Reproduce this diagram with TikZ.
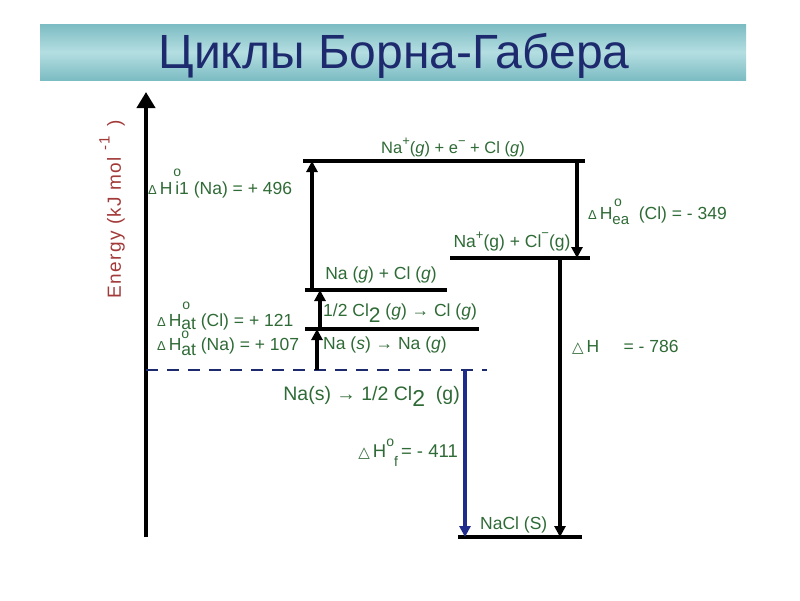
\documentclass[tikz,border=0pt]{standalone}
\usepackage{fontspec}
\setmainfont{Liberation Sans}
\newfontfamily\djv{DejaVu Sans}
\newfontfamily\spaced[LetterSpace=7]{Liberation Sans}
\usetikzlibrary{arrows.meta}
\definecolor{navy}{HTML}{1E2A6E}
\definecolor{lblgreen}{HTML}{2F6B36}
\definecolor{ered}{HTML}{A33A3A}
\definecolor{tealA}{HTML}{7CBCC3}
\definecolor{tealB}{HTML}{B4DEE1}
\definecolor{dblue}{HTML}{1F2C8C}
\newcommand\fs[1]{\fontsize{#1}{#1}\selectfont}
\newcommand\smD{{\fs{13}Δ}\,}
\newcommand\tri{{\djv\fs{15}△}\,}
% H with degree sign: #1 subscript, #2 horizontal shift of o, #3 raise of o, #4 lowering of subscript
\newcommand\Hsub[4]{H\makebox[0pt][l]{\hspace{#2}\smash{\raisebox{#3}{\fs{14}o}}}\smash{\raisebox{#4}{#1}}}
\newcommand\sups[2]{\smash{\raisebox{#1}{\fs{13}#2}}}
\begin{document}
\begin{tikzpicture}[x=1pt,y=-1pt,
  lvl/.style={line width=3.2pt},
  uparr/.style={line width=3.2pt,-{Triangle[length=11pt,width=11pt]}},
  lbl/.style={text=lblgreen,font=\fs{17.5},inner sep=0pt},
]
\useasboundingbox (0,0) rectangle (800,600);
\fill[white] (0,0) rectangle (800,600);
\shade[top color=tealA,bottom color=tealA,middle color=tealB] (40,24) rectangle (746,80);
\node[text=navy,font=\fs{48},inner sep=0pt] (title) at (394,56) {Циклы Борна-Габера};

% energy axis
\coordinate (ax0) at (146,537);
\coordinate (ax1) at (146,92);
\draw[line width=4pt,-{Triangle[length=16pt,width=18pt]}] (ax0) -- (ax1);
\node[rotate=90,text=ered,font=\spaced\fs{19},inner sep=0pt] (elbl) at (116,209) {Energy (kJ mol \sups{0.6em}{\fs{15}-1}\ \,)};

% levels
\coordinate (t0) at (303,161); \coordinate (t1) at (585,161);
\coordinate (i0) at (450,258); \coordinate (i1) at (590,258);
\coordinate (g0) at (305,290); \coordinate (g1) at (447,290);
\coordinate (c0) at (305,329); \coordinate (c1) at (479,329);
\coordinate (d0) at (146,370); \coordinate (d1) at (487,370);
\coordinate (b0) at (458,537); \coordinate (b1) at (582,537);
\draw[lvl] (t0) -- (t1);
\draw[lvl] (i0) -- (i1);
\draw[lvl] (g0) -- (g1);
\draw[lvl] (c0) -- (c1);
\draw[lvl] (b0) -- (b1);
\draw[navy,line width=2.8pt,dash pattern=on 12pt off 9pt] (d0) -- (d1);

% arrows
\coordinate (ie0) at (312,290); \coordinate (ie1) at (312,161);
\coordinate (ac0) at (320,329); \coordinate (ac1) at (320,290);
\coordinate (an0) at (317,370); \coordinate (an1) at (317,329);
\coordinate (ea0) at (577,161); \coordinate (ea1) at (577,258);
\coordinate (le0) at (560,258); \coordinate (le1) at (560,537);
\coordinate (hf0) at (465,370); \coordinate (hf1) at (465,537);
\draw[uparr] (ie0) -- (ie1);
\draw[uparr] (ac0) -- (ac1);
\draw[uparr] (an0) -- (an1);
\draw[uparr] (ea0) -- (ea1);
\draw[uparr] (le0) -- (le1);
\draw[uparr,dblue] (hf0) -- (hf1);

% species labels
\node[lbl,font=\fs{16.5}] (ltop) at (453,149) {Na\sups{0.45em}{+}(\textit{g}) + e\sups{0.45em}{−} + Cl (\textit{g})};
\node[lbl] (lion) at (512,243) {Na\sups{0.45em}{+}(g) + Cl\sups{0.55em}{−}(g)};
\node[lbl] (lgas) at (381,275) {Na (\textit{g}) + Cl (\textit{g})};
\node[lbl,anchor=west] (lcl) at (323,312) {1/2 Cl\smash{\raisebox{-0.35em}{\fs{21}2}} (\textit{g}) → Cl (\textit{g})};
\node[lbl,anchor=west] (lna) at (323,345) {Na (\textit{s}) → Na (\textit{g})};
\node[lbl,anchor=east,font=\fs{19.5}] (lel) at (460,395) {Na(s) → 1/2 Cl\smash{\raisebox{-0.35em}{\fs{23}2}} \ (g)};
\node[lbl,anchor=west] (lnacl) at (480,525) {NaCl (S)};

% enthalpy labels
\node[lbl,anchor=west] (hie) at (148,190) {\smD\Hsub{\,i1}{0.05em}{1.05em}{0em} (Na) = + 496};
\node[lbl,anchor=west] (hcl) at (157,322) {\smD\Hsub{at}{0.05em}{0.95em}{-0.15em} (Cl) = + 121};
\node[lbl,anchor=west] (hna) at (157,346) {\smD\Hsub{at}{0.0em}{0.66em}{-0.3em} (Na) = + 107};
\node[lbl,anchor=west] (hea) at (588,215) {\smD\Hsub{\fs{15}ea}{0.1em}{0.75em}{-0.3em}\ \ (Cl) = - 349};
\node[lbl,anchor=west] (hlat) at (572,347) {\tri H \ \ \ \ = - 786};
\node[lbl,anchor=east,font=\fs{18.5}] (hf) at (458,452) {\tri H\sups{0.6em}{\fs{14}o}\smash{\raisebox{-0.5em}{\fs{14}f}}\,= - 411};
\end{tikzpicture}
\end{document}
